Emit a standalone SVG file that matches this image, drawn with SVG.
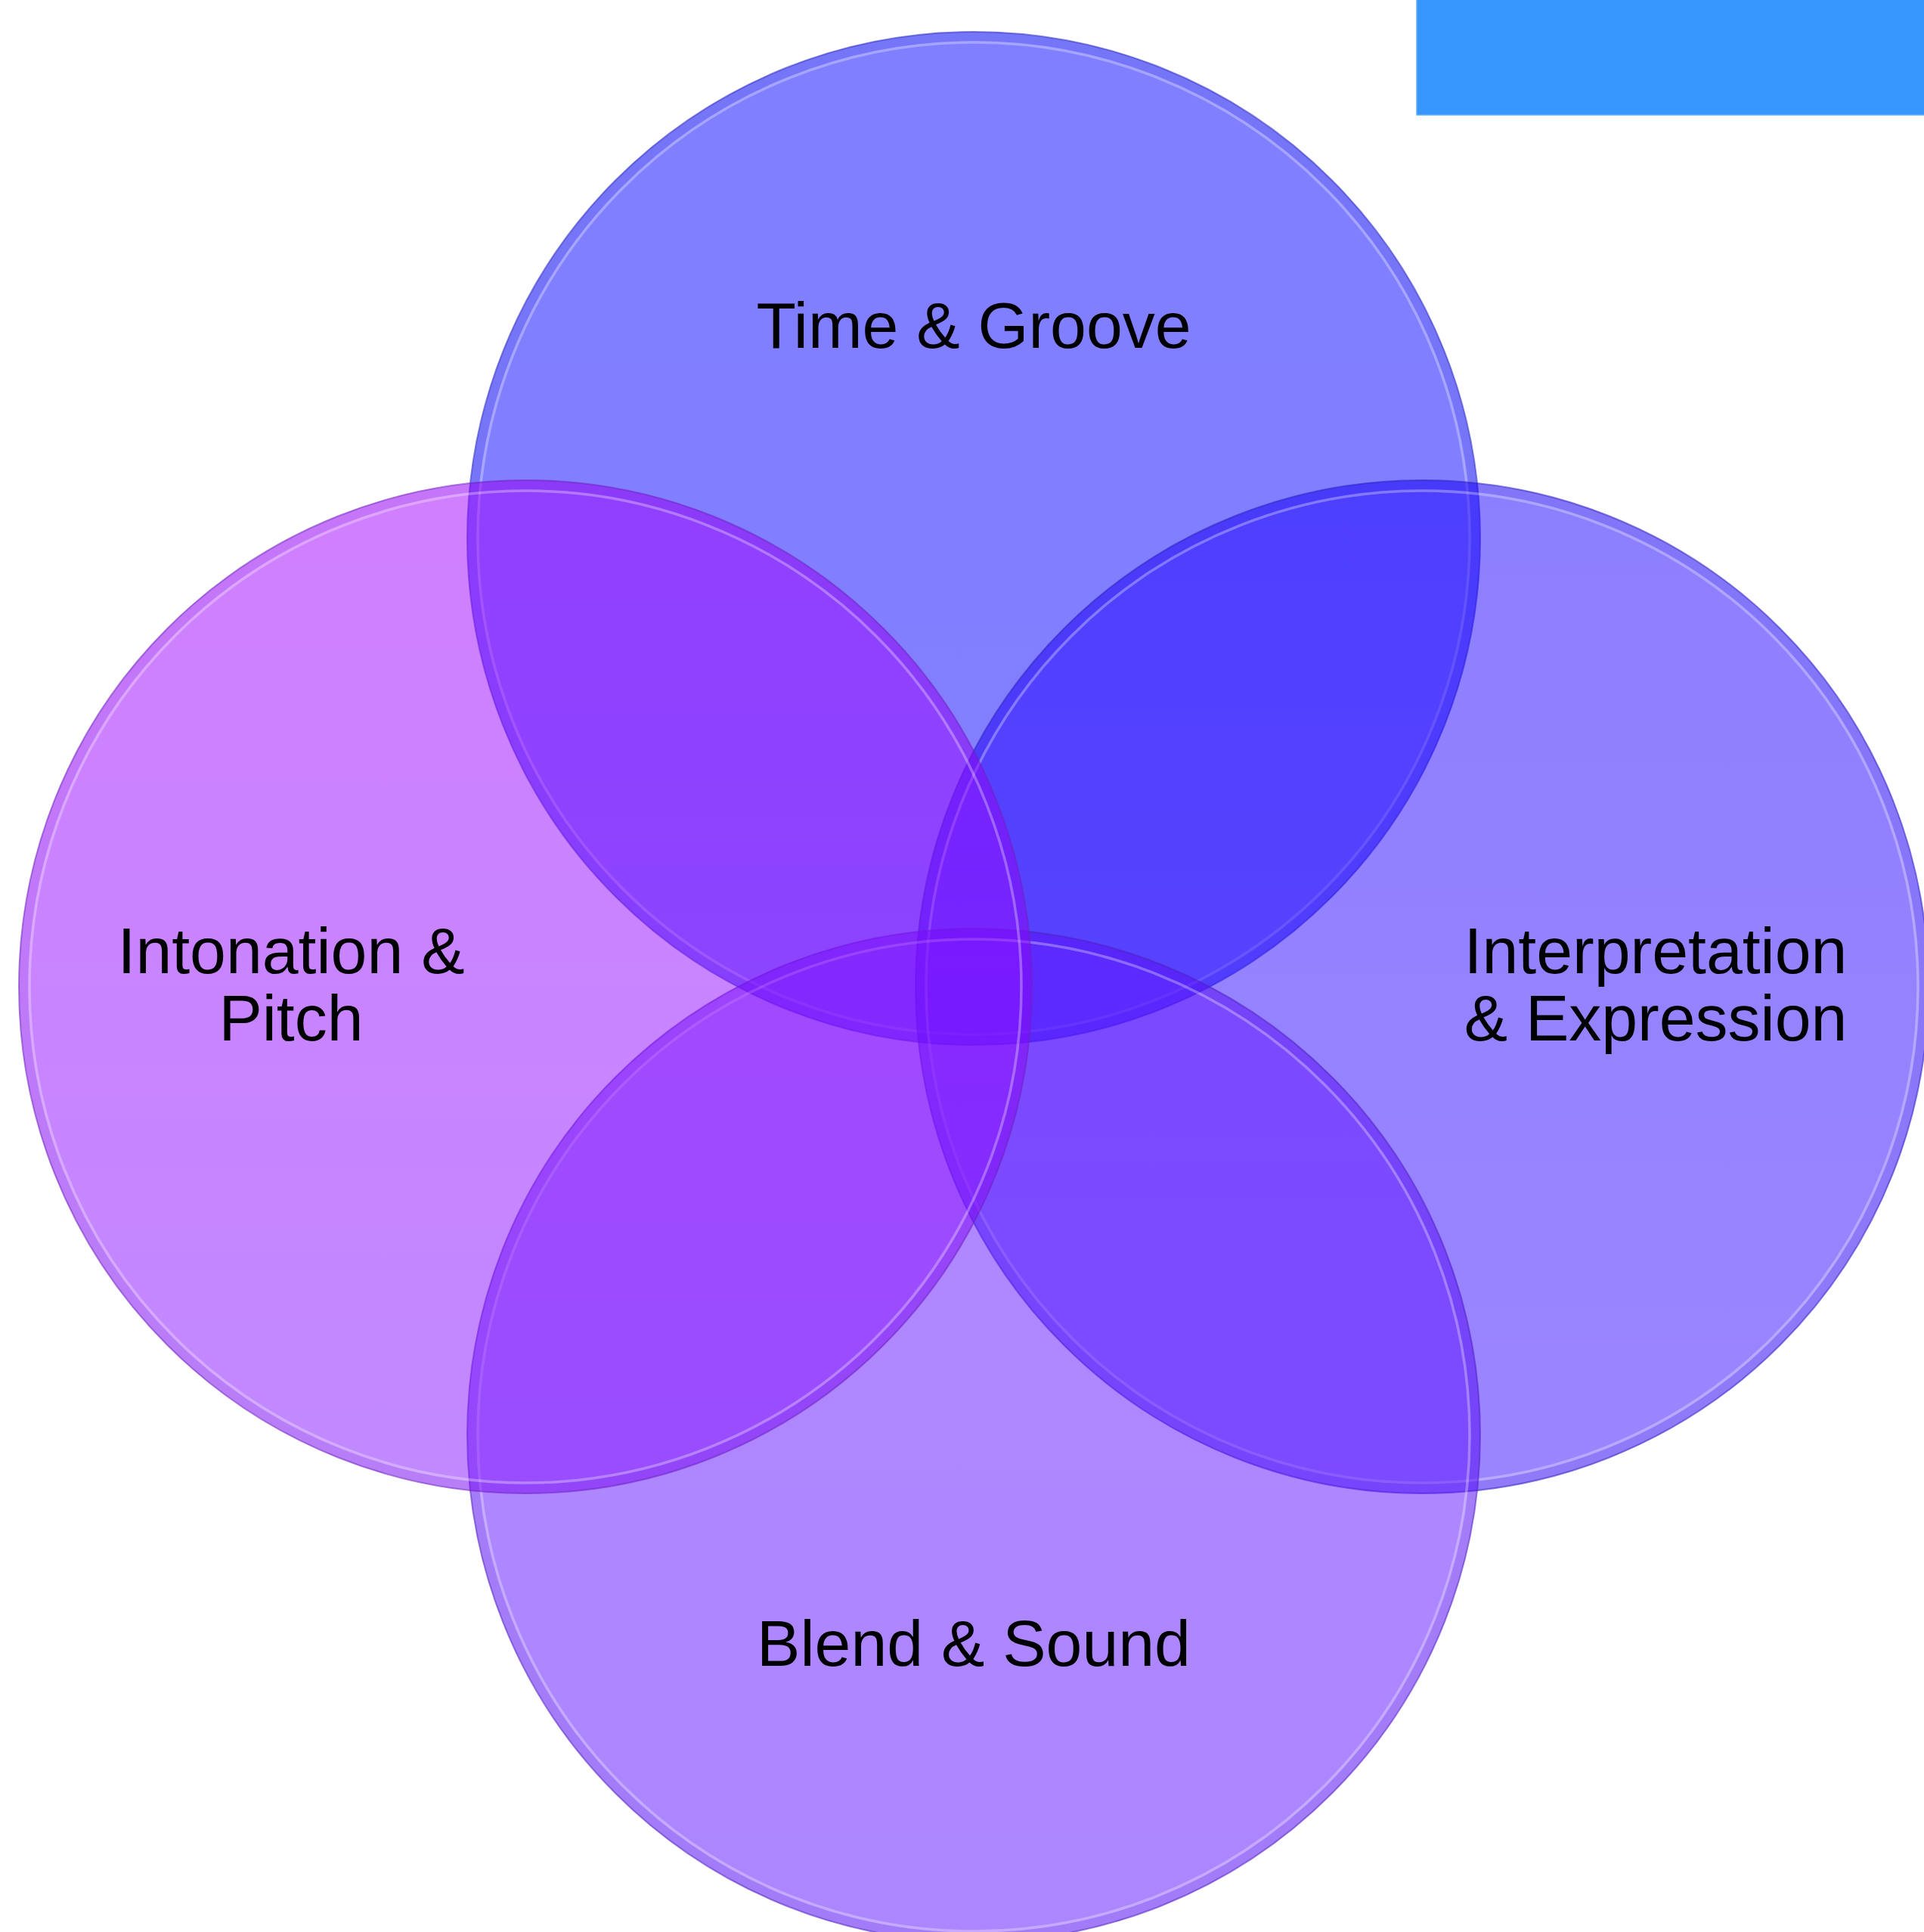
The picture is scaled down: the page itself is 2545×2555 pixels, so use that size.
<svg xmlns="http://www.w3.org/2000/svg" width="2545" height="2555" viewBox="0 0 2545 2555">
  <style>
    .fill { fill-opacity: 0.5; }
    .edge { fill: none; stroke-width: 2; stroke-opacity: 0.55; }
    .band { fill: none; stroke-width: 12; stroke-opacity: 0.08; }
    .hl { fill: none; stroke: #ffffff; stroke-width: 3.5; stroke-opacity: 0.3; }
    .lbl { font-family: "Liberation Sans", Arial, sans-serif; font-size: 86px; fill: #000000; text-anchor: middle; }
  </style>
  <defs>
    <linearGradient id="gTop" x1="0" y1="0" x2="0" y2="1">
      <stop offset="0" stop-color="#0000FF"/>
      <stop offset="1" stop-color="#0A00FF"/>
    </linearGradient>
    <linearGradient id="gRight" x1="0" y1="0" x2="0" y2="1">
      <stop offset="0" stop-color="#1A00FF"/>
      <stop offset="1" stop-color="#3A0CFF"/>
    </linearGradient>
    <linearGradient id="gBottom" x1="0" y1="0" x2="0" y2="1">
      <stop offset="0" stop-color="#6212FF"/>
      <stop offset="1" stop-color="#5A0EFF"/>
    </linearGradient>
    <linearGradient id="gLeft" x1="0" y1="0" x2="0" y2="1">
      <stop offset="0" stop-color="#A200FF"/>
      <stop offset="1" stop-color="#8414FF"/>
    </linearGradient>
  </defs>

  <rect id="corner-bar" x="1874" y="-2" width="673" height="154" fill="#3797FF" stroke="#5CAEFF" stroke-width="1.5"/>

  <g id="node-time-groove">
    <circle class="fill" cx="1288" cy="712" r="670" fill="url(#gTop)"/>
    <circle class="band" cx="1288" cy="712" r="664" stroke="#0000A0"/>
    <circle class="hl" cx="1288" cy="712" r="656"/>
    <circle class="edge" cx="1288" cy="712" r="670" stroke="#3030C0"/>
    <text class="lbl" x="1288" y="460">Time &amp; Groove</text>
  </g>

  <g id="node-interpretation">
    <circle class="fill" cx="1881" cy="1305" r="670" fill="url(#gRight)"/>
    <circle class="band" cx="1881" cy="1305" r="664" stroke="#1000A0"/>
    <circle class="hl" cx="1881" cy="1305" r="656"/>
    <circle class="edge" cx="1881" cy="1305" r="670" stroke="#3020C0"/>
    <text class="lbl" x="2190" y="1287">Interpretation</text>
    <text class="lbl" x="2190" y="1376">&amp; Expression</text>
  </g>

  <g id="node-blend-sound">
    <circle class="fill" cx="1288" cy="1898" r="670" fill="url(#gBottom)"/>
    <circle class="band" cx="1288" cy="1898" r="664" stroke="#3000A0"/>
    <circle class="hl" cx="1288" cy="1898" r="656"/>
    <circle class="edge" cx="1288" cy="1898" r="670" stroke="#5020C0"/>
    <text class="lbl" x="1288" y="2203">Blend &amp; Sound</text>
  </g>

  <g id="node-intonation">
    <circle class="fill" cx="695" cy="1305" r="670" fill="url(#gLeft)"/>
    <circle class="band" cx="695" cy="1305" r="664" stroke="#5000A0"/>
    <circle class="hl" cx="695" cy="1305" r="656" stroke="#FFD0FF"/>
    <circle class="edge" cx="695" cy="1305" r="670" stroke="#7020C0"/>
    <text class="lbl" x="385" y="1287">Intonation &amp;</text>
    <text class="lbl" x="385" y="1376">Pitch</text>
  </g>
</svg>
